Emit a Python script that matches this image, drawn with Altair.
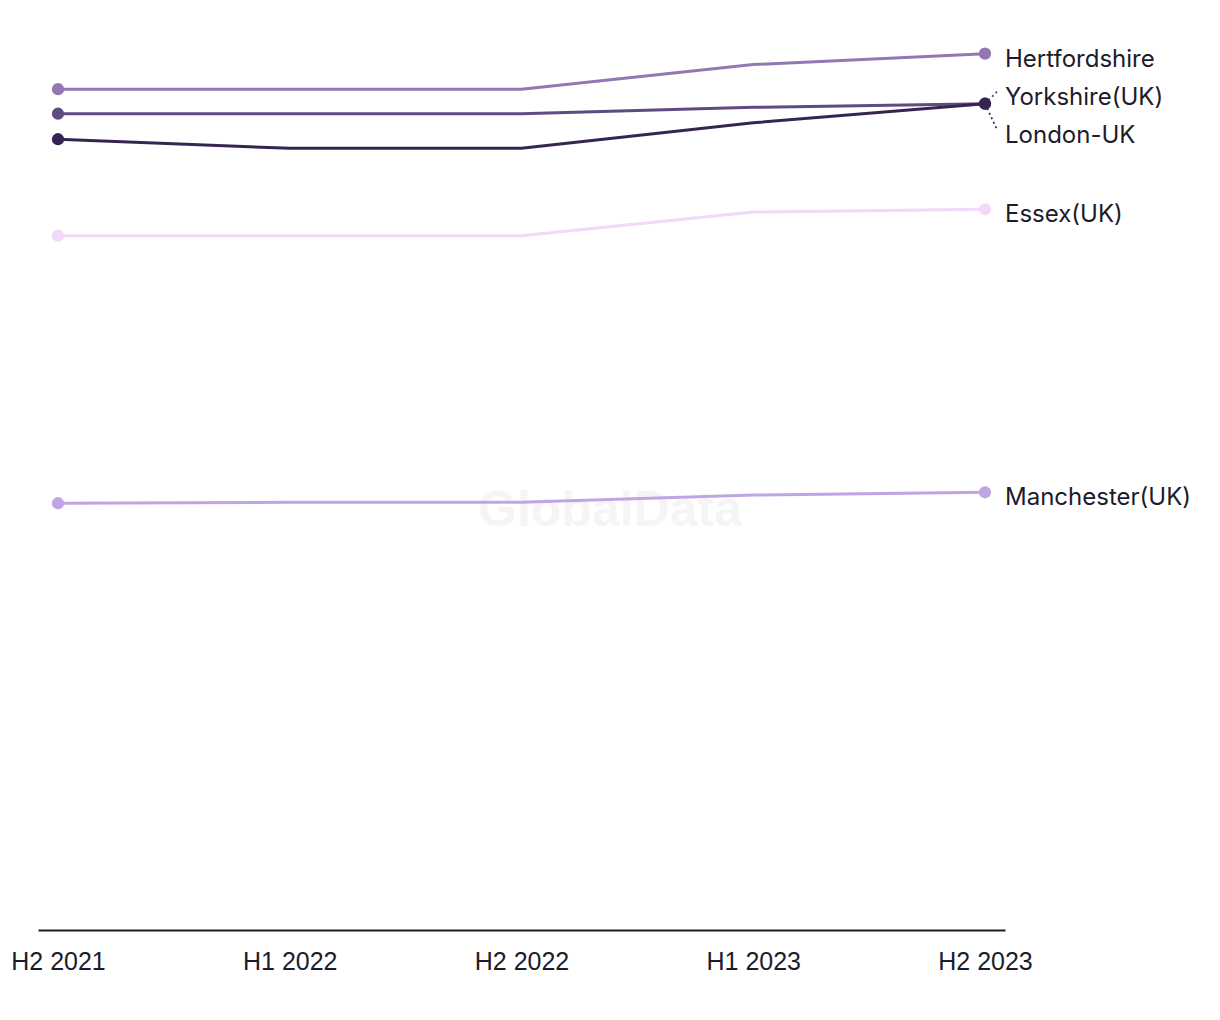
import altair as alt
import pandas as pd

periods = ["H2 2021", "H1 2022", "H2 2022", "H1 2023", "H2 2023"]
series_names = ["Hertfordshire", "Yorkshire(UK)", "London-UK", "Essex(UK)", "Manchester(UK)"]
hertfordshire = [92.4, 92.4, 92.4, 95.1, 96.3]
yorkshire = [89.7, 89.7, 89.7, 90.4, 90.8]
london = [86.9, 85.9, 85.9, 88.7, 90.8]
essex = [76.3, 76.3, 76.3, 78.9, 79.2]
manchester = [46.9, 47.0, 47.0, 47.8, 48.1]
colors = ["#9178b3", "#5f4a82", "#362553", "#f1d9fb", "#bfa5e3"]

all_values = [hertfordshire, yorkshire, london, essex, manchester]

rows = []
for order, (name, vals) in enumerate(zip(series_names, all_values)):
    for i, v in enumerate(vals):
        rows.append({"series": name, "idx": i, "period": periods[i], "value": v, "order": order})
df = pd.DataFrame(rows)

ends_df = df[(df["idx"] == 0) | (df["idx"] == len(periods) - 1)]

# label de-overlap: cluster near-equal ends, center each cluster, then push down from the top
spacing = 4.18
ends = sorted([(vals[-1], name) for name, vals in zip(series_names, all_values)], reverse=True)
clusters = []
for v, name in ends:
    if clusters and clusters[-1][-1][0] - v < spacing:
        clusters[-1].append((v, name))
    else:
        clusters.append([(v, name)])
label_pos = {}
prev = None
for cl in clusters:
    k = len(cl)
    mean = sum(v for v, _ in cl) / k
    for j, (v, name) in enumerate(cl):
        p = mean + ((k - 1) / 2 - j) * spacing
        if prev is not None:
            p = min(p, prev - spacing)
        label_pos[name] = p
        prev = p

lab_rows = []
for name, vals in zip(series_names, all_values):
    lab_rows.append({"series": name, "idx": len(periods) - 1, "value": vals[-1],
                     "label_y": label_pos[name], "idx2": len(periods) - 1 + 0.052,
                     "moved": abs(label_pos[name] - vals[-1]) > 0.3})
lab_df = pd.DataFrame(lab_rows)

pad = 0.0863
xscale = alt.Scale(domain=[-pad, len(periods) - 1 + pad], nice=False, zero=False)
yscale = alt.Scale(domain=[0, 100], nice=False, zero=False)
cscale = alt.Scale(domain=series_names, range=colors)

label_expr = "[" + ",".join("'%s'" % p for p in periods) + "][datum.value]"

xaxis = alt.Axis(values=list(range(len(periods))), labelExpr=label_expr, title=None,
                 grid=False, ticks=False, domain=True, domainColor="#1c1c2b",
                 domainWidth=2, labelFontSize=25, labelFont="Liberation Sans",
                 labelColor="#1c1c2b", labelPadding=19, labelFlush=False)

base = alt.Chart(df)

watermark = alt.Chart(pd.DataFrame({"t": ["GlobalData"]})).mark_text(
    font="Liberation Sans", fontWeight="bold", fontSize=50, color="#f5f5f5",
    align="center", baseline="middle"
).encode(x=alt.value(572), y=alt.value(491), text="t:N")

lines = base.mark_line(strokeWidth=3, interpolate="linear").encode(
    x=alt.X("idx:Q", scale=xscale, axis=xaxis),
    y=alt.Y("value:Q", scale=yscale, axis=None),
    color=alt.Color("series:N", scale=cscale, legend=None),
    order=alt.Order("order:Q"),
    detail="series:N",
)

points = alt.Chart(ends_df).mark_circle(size=150, opacity=1).encode(
    x=alt.X("idx:Q", scale=xscale),
    y=alt.Y("value:Q", scale=yscale),
    color=alt.Color("series:N", scale=cscale, legend=None),
    order=alt.Order("order:Q"),
)

connectors = alt.Chart(lab_df).transform_filter("datum.moved").mark_rule(
    strokeDash=[2, 3], strokeWidth=1.8
).encode(
    x=alt.X("idx:Q", scale=xscale),
    x2="idx2:Q",
    y=alt.Y("value:Q", scale=yscale),
    y2="label_y:Q",
    color=alt.Color("series:N", scale=cscale, legend=None),
)

labels = alt.Chart(lab_df).mark_text(
    align="left", baseline="middle", dx=20, dy=6, fontSize=24, font="Inter", color="#1c1c2b"
).encode(
    x=alt.X("idx:Q", scale=xscale),
    y=alt.Y("label_y:Q", scale=yscale),
    text="series:N",
)

chart = alt.layer(watermark, lines, connectors, points, labels).properties(
    width=967, height=910,
    padding={"left": 30, "top": 12, "right": 200, "bottom": 70},
    autosize="none",
    background="white",
).configure_view(strokeWidth=0, stroke="transparent")

chart.save("out.html", embed_options={"renderer": "svg", "actions": False})
